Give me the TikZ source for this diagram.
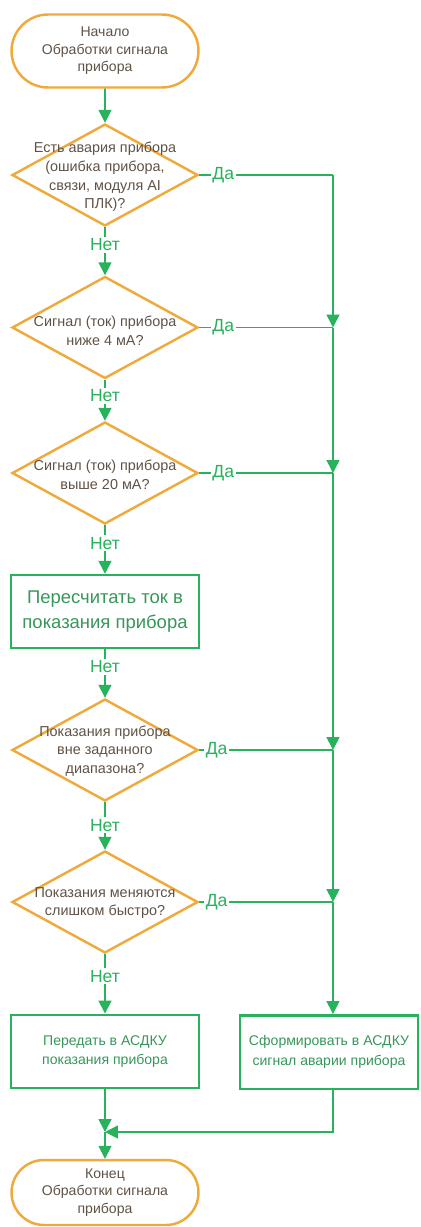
\documentclass[tikz,border=0pt]{standalone}
\usepackage{fontspec}
\setmainfont{Liberation Sans}
\usetikzlibrary{shapes.geometric,shapes.misc,arrows.meta}
\definecolor{flowor}{RGB}{240,170,60}
\definecolor{flowgr}{RGB}{40,178,92}
\definecolor{flowgrtext}{RGB}{55,150,90}
\definecolor{flowdark}{RGB}{95,82,70}
\tikzset{
  terminal/.style={rounded rectangle, draw=flowor, line width=1.4pt, text=flowdark,
    minimum width=3.74cm, minimum height=1.46cm, inner sep=0pt,
    align=center, font=\fontsize{8}{10}\selectfont},
  decision/.style={diamond, draw=flowor, line width=1.4pt, inner sep=0pt,
    minimum width=3.72cm, minimum height=2.04cm},
  qtext/.style={text=flowdark, align=center, inner sep=0pt,
    font=\fontsize{8.2}{10.6}\selectfont},
  bigbox/.style={rectangle, draw=flowgr, line width=1.4pt, text=flowgrtext,
    minimum width=3.76cm, minimum height=1.46cm, align=center,
    font=\fontsize{10.5}{14}\selectfont},
  smallbox/.style={rectangle, draw=flowgr, line width=1.4pt, text=flowgrtext,
    minimum height=1.47cm, align=center, font=\fontsize{8}{11}\selectfont},
  flow/.style={draw=flowgr, line width=0.9pt, -{Triangle[length=0.26cm,width=0.26cm]}},
  plain/.style={draw=flowgr, line width=0.9pt},
  ans/.style={fill=white, text=flowgr, inner sep=1pt, font=\fontsize{10}{12}\selectfont}
}
\begin{document}
\begin{tikzpicture}[x=0.02cm, y=-0.02cm]
\useasboundingbox (0,0) rectangle (420,1227);

% main column
\node[terminal] (start) at (105,51) {Начало\\Обработки сигнала\\прибора};

\node[decision] (d1) at (105,175) {};
\node[qtext] (d1t) at (105,177) {Есть авария прибора\\(ошибка прибора,\\связи, модуля AI\\ПЛК)?};

\node[decision] (d2) at (105,327.5) {};
\node[qtext] (d2t) at (105,331) {Сигнал (ток) прибора\\ниже 4 мА?};

\node[decision] (d3) at (105,473) {};
\node[qtext] (d3t) at (105,475) {Сигнал (ток) прибора\\выше 20 мА?};

\node[bigbox] (calc) at (105,611.5) {Пересчитать ток в\\показания прибора};

\node[decision] (d4) at (105,750) {};
\node[qtext] (d4t) at (105,751) {Показания прибора\\вне заданного\\диапазона?};

\node[decision] (d5) at (105,902) {};
\node[qtext] (d5t) at (105,903) {Показания меняются\\слишком быстро?};

\node[smallbox, minimum width=3.76cm] (send) at (105,1051.5) {Передать в АСДКУ\\показания прибора};
\node[smallbox, minimum width=3.56cm] (alarm) at (329,1052) {Сформировать в АСДКУ\\сигнал аварии прибора};

\node[terminal, minimum height=1.30cm] (finish) at (105,1192.5) {Конец\\Обработки сигнала\\прибора};

% junction points on the alarm bus
\coordinate (j1) at (333,175);
\coordinate (j2) at (333,327.5);
\coordinate (j3) at (333,473);
\coordinate (j4) at (333,750);
\coordinate (j5) at (333,902);
\coordinate (m) at (105,1132);
\coordinate (mr) at (333,1132);

% "no" branch down the main column
\draw[flow] (start) -- (d1);
\draw[flow] (d1.south) -- node[ans, pos=0.37] (n1) {Нет} (d2.north);
\draw[flow] (d2.south) -- node[ans, pos=0.39] (n2) {Нет} (d3.north);
\draw[flow] (d3.south) -- node[ans, pos=0.37] (n3) {Нет} (calc.north);
\draw[flow] (calc.south) -- node[ans, pos=0.36] (n4) {Нет} (d4.north);
\draw[flow] (d4.south) -- node[ans, pos=0.48] (n5) {Нет} (d5.north);
\draw[flow] (d5.south) -- node[ans, pos=0.37] (n6) {Нет} (send.north);

% "yes" branches to the bus
\draw[plain] (d1.east) -- node[ans, pos=0.18] (y1) {Да} (j1);
\draw[plain] (d2.east) -- node[ans, pos=0.18] (y2) {Да} (j2);
\draw[plain] (d3.east) -- node[ans, pos=0.18] (y3) {Да} (j3);
\draw[plain] (d4.east) -- node[ans, pos=0.13] (y4) {Да} (j4);
\draw[plain] (d5.east) -- node[ans, pos=0.13] (y5) {Да} (j5);

% bus down to the alarm box
\draw[flow] (j1) -- (j2);
\draw[flow] (j2) -- (j3);
\draw[flow] (j3) -- (j4);
\draw[flow] (j4) -- (j5);
\draw[flow] (j5) -- (j5 |- alarm.north);

% merge to the end
\draw[flow] (send.south) -- (m);
\draw[flow] (alarm.south -| mr) -- (mr) -- (m);
\draw[flow] (m) -- (finish.north);
\end{tikzpicture}
\end{document}
